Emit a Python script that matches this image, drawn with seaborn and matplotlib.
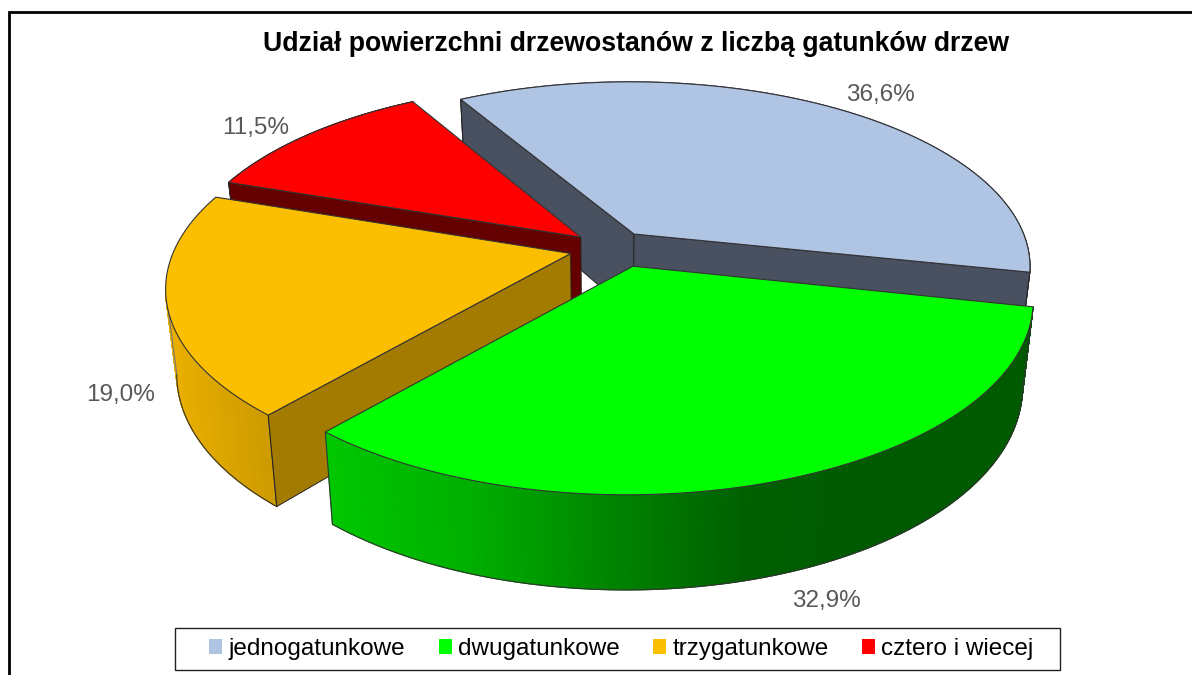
import numpy as np
import matplotlib
matplotlib.use('Agg')
import matplotlib.pyplot as plt
import seaborn as sns
from matplotlib.collections import PolyCollection
from matplotlib.patches import Patch, Rectangle

categories = ['jednogatunkowe', 'dwugatunkowe', 'trzygatunkowe', 'cztero i wiecej']
shares = [36.6, 32.9, 19.0, 11.5]
value_labels = ['36,6%', '32,9%', '19,0%', '11,5%']
label_x = [880, 826, 121, 256]
label_y = [95, 601, 395, 128]
top_colors = ['#b0c4e4', '#00ff00', '#fcbf00', '#ff0000']
side_colors = ['#49505f', '#005a00', '#a37b00', '#640000']

# which cut faces can be seen (start edge, end edge) and the painting order
visible_faces = [(True, True), (False, False), (True, False), (True, False)]
paint_order = [0, 3, 2, 1]
# small sideways corrections of each slice and of its tip
slice_shift = [1, 2, 0, 0]
tip_shift = [1, 9, 0, 2]

# picture geometry of the tilted pie
CX, CY = 609, 248.6
A, B, P = 396, 182.8, 0.171
EXPLODE = 0.1
START = 119.8


def project(u, v):
    s = 1 / (1 + P * v)
    return CX + A * u * s, CY - B * v * s


def project_bottom(u, v):
    x, y = project(u, v)
    return CX + 0.975 * (x - CX), y + 82 - 12 * v


def draw_slice(ax, i, t1, t2, z):
    mid = np.radians((t1 + t2) / 2)
    ou, ov = EXPLODE * np.cos(mid), EXPLODE * np.sin(mid)
    th = np.radians(np.linspace(t1, t2, 400))
    u = ou + np.cos(th)
    v = ov + np.sin(th)
    xt, yt = project(u, v)
    xb, yb = project_bottom(u, v)
    xt, xb = xt + slice_shift[i], xb + slice_shift[i]
    ax0, ay0 = project(ou, ov)
    bx0, by0 = project_bottom(ou, ov)
    ax0, bx0 = ax0 + slice_shift[i] + tip_shift[i], bx0 + slice_shift[i] + tip_shift[i]

    # rim, one narrow strip per step so it can carry a gradient
    strips = [[(xt[k], yt[k]), (xt[k + 1], yt[k + 1]), (xb[k + 1], yb[k + 1]), (xb[k], yb[k])]
              for k in range(len(th) - 1)]
    if i == 1:
        ramp = sns.blend_palette(['#00c800', '#00b000', '#008500', '#005f00', '#005a00', '#005a00'], 256)
        base = ramp[-1]
    elif i == 2:
        ramp = sns.blend_palette(['#eaaf00', '#cd9b00'], 256)
        base = ramp[0]
    else:
        ramp = [side_colors[i]] * 256
        base = ramp[0]
    lo, hi = xt.min(), xt.max()
    cols = [ramp[int(255 * (s[0][0] - lo) / (hi - lo))] for s in strips]
    # the yellow rim stops where it turns away, the rest sits under its top
    n = np.argmin(xt + xb) + 1 if i == 2 else len(th)
    # solid shape under the strips, they get too thin near the turn
    ax.fill(np.r_[xt[:n], xb[:n][::-1]], np.r_[yt[:n], yb[:n][::-1]], color=base, lw=0, zorder=z - 0.5)
    ax.add_collection(PolyCollection(strips[:n - 1], facecolors=cols[:n - 1], edgecolors=cols[:n - 1],
                                     linewidths=0.8, zorder=z))
    ax.plot(xb[:n], yb[:n], color='#333333', lw=0.8, zorder=z)
    ax.plot([xt[0], xb[0]], [yt[0], yb[0]], color='#333333', lw=0.8, zorder=z)
    ax.plot([xt[n - 1], xb[n - 1]], [yt[n - 1], yb[n - 1]], color='#777777' if i == 2 else '#333333', lw=0.8, zorder=z)

    # cut faces
    for k, show in zip((0, -1), visible_faces[i]):
        if show:
            face = [(ax0, ay0), (xt[k], yt[k]), (xb[k], yb[k]), (bx0, by0)]
            ax.fill(*zip(*face), facecolor=side_colors[i], edgecolor='#222222', lw=0.7, zorder=z + 1)

    # top
    ax.fill(np.r_[ax0, xt], np.r_[ay0, yt], facecolor=top_colors[i], edgecolor='#333333', lw=0.8, zorder=z + 2)


sns.set_theme(style='white')
plt.rcParams['font.family'] = ['Liberation Sans', 'DejaVu Sans']

fig, ax = plt.subplots(figsize=(11.92, 6.75), dpi=100)
ax.set_position([0, 0, 1, 1])
ax.set_xlim(0, 1192)
ax.set_ylim(675, 0)
ax.axis('off')

# outer frame, only the top and left sides are in the picture
ax.plot([9, 9, 1192], [675, 12, 12], color='black', lw=2, zorder=0, solid_joinstyle='miter')

edges = START - np.r_[0, np.cumsum(shares)] / sum(shares) * 360
for z, i in enumerate(paint_order):
    draw_slice(ax, i, edges[i], edges[i + 1], 3 * z + 1)

ax.text(636, 44, 'Udział powierzchni drzewostanów z liczbą gatunków drzew', ha='center', va='center',
        fontsize=19.15, fontweight='bold', color='black')

for txt, x, y in zip(value_labels, label_x, label_y):
    ax.text(x, y, txt, ha='center', va='center', fontsize=17.5, color='#595959')

ax.add_patch(Rectangle((175, 628), 885, 42, facecolor='white', edgecolor='#222222', lw=1.0, zorder=29))
handles = [Patch(facecolor=c, edgecolor='none', label=n) for c, n in zip(top_colors, categories)]
leg = ax.legend(handles=handles, ncol=4, loc='center', bbox_to_anchor=(621.5, 649), bbox_transform=ax.transData,
                fontsize=17.5, frameon=False, labelcolor='black', borderpad=0, borderaxespad=0,
                handlelength=0.54, handleheight=0.54, handletextpad=0.25, columnspacing=1.38)
leg.set_zorder(30)

fig.savefig('out.png', dpi=100)
